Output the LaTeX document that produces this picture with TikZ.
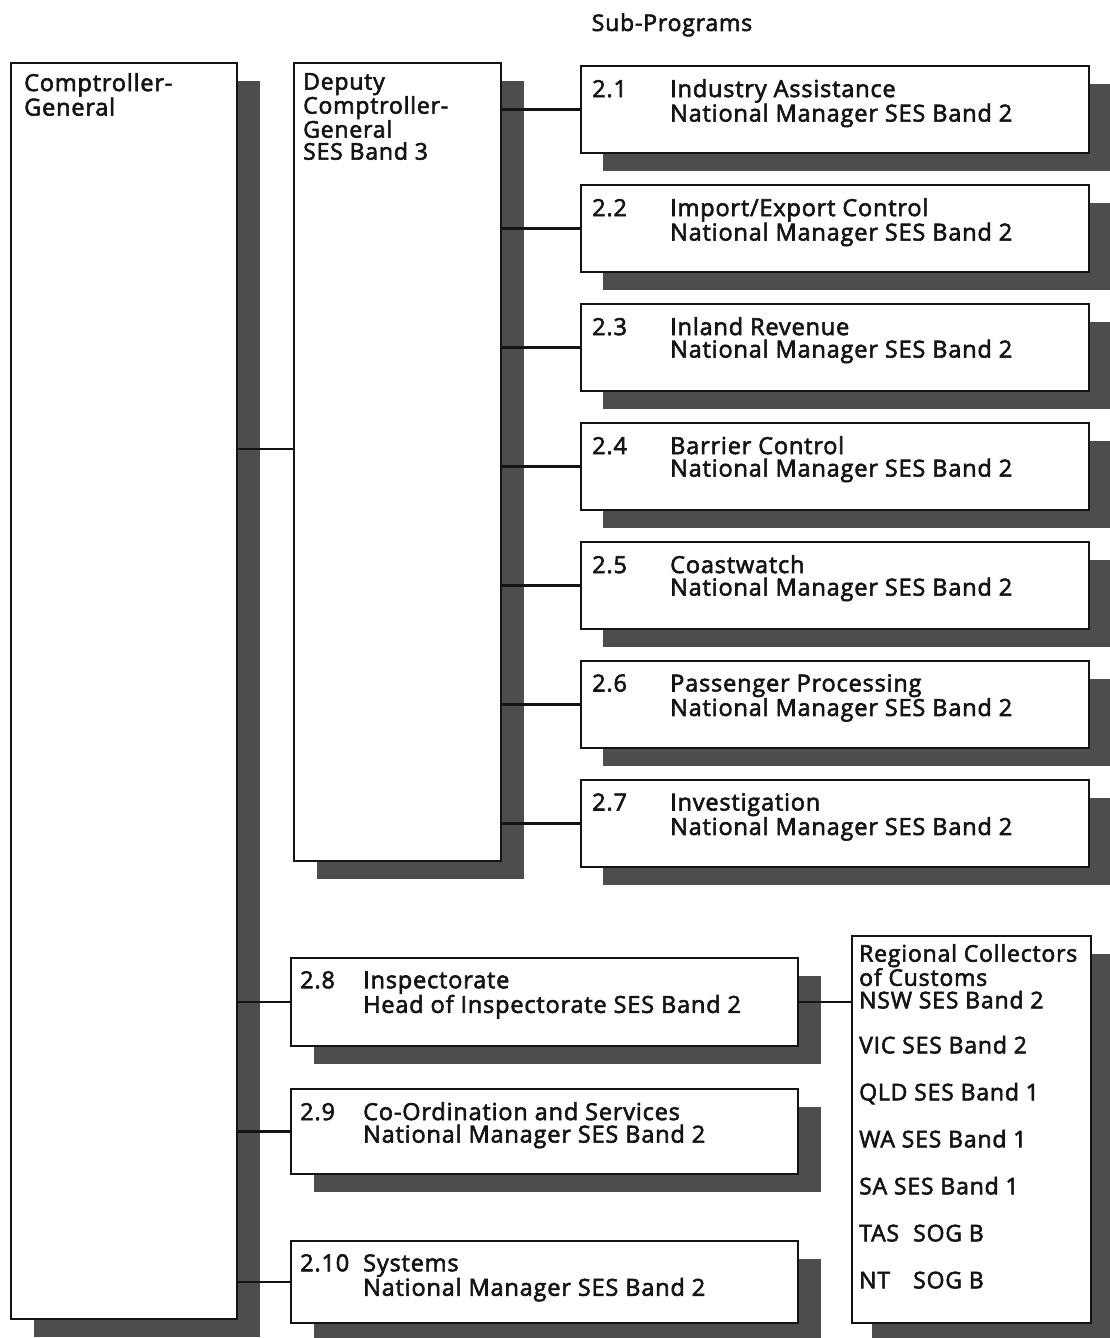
\documentclass[tikz,border=0pt]{standalone}
\usepackage{fontspec}
\setmainfont{Open Sans}[LetterSpace=3.5,FakeBold=2.5]
\usetikzlibrary{positioning,shadows}
\definecolor{ink}{HTML}{141414}
\definecolor{shade}{HTML}{4D4D4D}
\newcommand{\subprog}[4][78pt]{\makebox[#1][l]{#2}#3\\\hspace*{#1}#4}
\tikzset{
  card/.style={draw=ink,fill=white,line width=1.6pt,anchor=north west,inner sep=0pt,
    drop shadow={shadow xshift=#1,shadow yshift=-18pt,fill=shade,opacity=1}},
  card/.default=22pt,
  txt/.style={anchor=north west,align=left,inner sep=0pt,text=ink,font=\fontsize{23.5}{22.5}\selectfont},
  heading/.style={inner sep=0pt,text=ink,font=\fontsize{23}{22.5}\selectfont},
  link/.style={draw=ink,line width=2.4pt}
}
\begin{document}
\begin{tikzpicture}[x=1pt,y=-1pt]
  \useasboundingbox (0,0) rectangle (1110,1338);
  \node[heading] (title) at (672,25) {Sub-Programs};

  % head and deputy
  \node[card=23pt,minimum width=226pt,minimum height=1256pt] (comp) at (10,62) {};
  \node[txt,below right=11pt and 14pt of comp.north west] (comptxt) {Comptroller-\\General};
  \node[card=23pt,minimum width=207pt,minimum height=798pt] (deputy) at (293,62) {};
  \node[txt,font=\fontsize{23}{22}\selectfont,below right=11pt and 10pt of deputy.north west] (deputytxt) {Deputy\\Comptroller-\\General\\SES Band 3};
  \coordinate (cdjoin) at ([yshift=13pt]deputy.west);
  \draw[link] (cdjoin) -- (cdjoin -| comp.east);

  % sub-programs under the deputy
  \node[card,minimum width=508pt,minimum height=87pt] (sp21) at (580,65) {};
  \node[txt,below right=14pt and 12pt of sp21.north west] (sp21txt) {\subprog{2.1}{Industry Assistance}{National Manager SES Band 2}};
  \node[card,minimum width=508pt,minimum height=87pt] (sp22) at (580,184) {};
  \node[txt,below right=14pt and 12pt of sp22.north west] (sp22txt) {\subprog{2.2}{Import/Export Control}{National Manager SES Band 2}};
  \node[card,minimum width=508pt,minimum height=87pt] (sp23) at (580,303) {};
  \node[txt,below right=14pt and 12pt of sp23.north west] (sp23txt) {\subprog{2.3}{Inland Revenue}{National Manager SES Band 2}};
  \node[card,minimum width=508pt,minimum height=87pt] (sp24) at (580,422) {};
  \node[txt,below right=14pt and 12pt of sp24.north west] (sp24txt) {\subprog{2.4}{Barrier Control}{National Manager SES Band 2}};
  \node[card,minimum width=508pt,minimum height=87pt] (sp25) at (580,541) {};
  \node[txt,below right=14pt and 12pt of sp25.north west] (sp25txt) {\subprog{2.5}{Coastwatch}{National Manager SES Band 2}};
  \node[card,minimum width=508pt,minimum height=87pt] (sp26) at (580,660) {};
  \node[txt,below right=14pt and 12pt of sp26.north west] (sp26txt) {\subprog{2.6}{Passenger Processing}{National Manager SES Band 2}};
  \node[card,minimum width=508pt,minimum height=87pt] (sp27) at (580,779) {};
  \node[txt,below right=14pt and 12pt of sp27.north west] (sp27txt) {\subprog{2.7}{Investigation}{National Manager SES Band 2}};
  \draw[link] (sp21.west) -- (sp21.west -| deputy.east);
  \draw[link] (sp22.west) -- (sp22.west -| deputy.east);
  \draw[link] (sp23.west) -- (sp23.west -| deputy.east);
  \draw[link] (sp24.west) -- (sp24.west -| deputy.east);
  \draw[link] (sp25.west) -- (sp25.west -| deputy.east);
  \draw[link] (sp26.west) -- (sp26.west -| deputy.east);
  \draw[link] (sp27.west) -- (sp27.west -| deputy.east);

  % sub-programs under the comptroller
  \node[card=23pt,minimum width=507pt,minimum height=88pt] (sp28) at (290,957) {};
  \node[txt,below right=14pt and 10pt of sp28.north west] (sp28txt) {\subprog[63pt]{2.8}{Inspectorate}{Head of Inspectorate SES Band 2}};
  \node[card=23pt,minimum width=507pt,minimum height=85pt] (sp29) at (290,1088) {};
  \node[txt,below right=14pt and 10pt of sp29.north west] (sp29txt) {\subprog[63pt]{2.9}{Co-Ordination and Services}{National Manager SES Band 2}};
  \node[card=23pt,minimum width=507pt,minimum height=82pt] (sp210) at (290,1240) {};
  \node[txt,below right=14pt and 10pt of sp210.north west] (sp210txt) {\subprog[63pt]{2.10}{Systems}{National Manager SES Band 2}};
  \draw[link] (sp28.west) -- (sp28.west -| comp.east);
  \draw[link] (sp29.west) -- (sp29.west -| comp.east);
  \draw[link] (sp210.west) -- (sp210.west -| comp.east);

  % regional collectors
  \node[card=20pt,minimum width=239pt,minimum height=387pt] (regional) at (851,935) {};
  \node[txt,font=\fontsize{23}{22.5}\selectfont,below right=9pt and 8pt of regional.north west] (regionaltxt) {Regional Collectors\\of Customs\\NSW SES Band 2\\[22.5pt]VIC SES Band 2\\[24.5pt]QLD SES Band 1\\[24.5pt]WA SES Band 1\\[24.5pt]SA SES Band 1\\[24.5pt]\makebox[54pt][l]{TAS}SOG B\\[24.5pt]\makebox[54pt][l]{NT}SOG B};
  \draw[link] (sp28.east) -- (sp28.east -| regional.west);
\end{tikzpicture}
\end{document}
